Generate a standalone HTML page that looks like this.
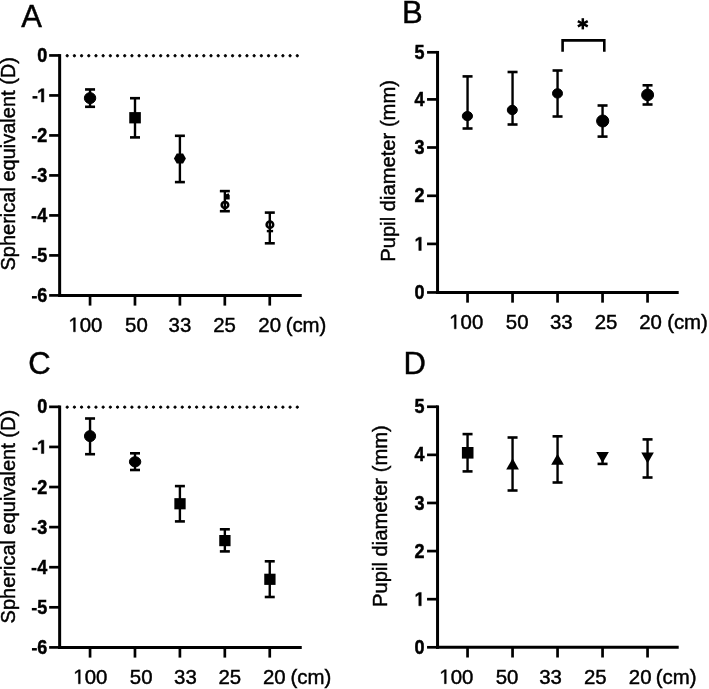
<!DOCTYPE html>
<html><head><meta charset="utf-8"><style>
html,body{margin:0;padding:0;background:#fff;}
svg{display:block;will-change:transform;}
line,polyline,circle,ellipse{stroke:#000;}
.f{fill:#000;}
.g{fill:#000;stroke:#000;stroke-width:0.45;}
text .h{fill-opacity:0;stroke-opacity:0;}
text{font-family:"Liberation Sans", sans-serif;fill:#000;stroke:#000;stroke-width:0.45;}
</style></head><body>
<svg width="709" height="689" viewBox="0 0 709 689">
<rect width="709" height="689" fill="#fff"/>
<line x1="59.65" y1="54.10" x2="59.65" y2="296.90" stroke-width="3.0"/>
<line x1="58.15" y1="295.40" x2="301.75" y2="295.40" stroke-width="3.0"/>
<line x1="49.15" y1="55.45" x2="59.65" y2="55.45" stroke-width="2.7"/>
<text transform="translate(37.19 62.05) scale(1 1.08)" font-size="18" font-weight="bold">0</text>
<line x1="49.15" y1="95.44" x2="59.65" y2="95.44" stroke-width="2.7"/>
<text transform="translate(37.19 102.04) scale(1 1.08)" font-size="18" font-weight="bold"><tspan class="h">1</tspan></text>
<path d="M41.39 102.04V90.94L38.42 92.94V90.84L41.52 88.67H43.86V102.04Z" class="g"/>
<rect x="32.52" y="96.09" width="4.90" height="2.50" class="f"/>
<line x1="49.15" y1="135.43" x2="59.65" y2="135.43" stroke-width="2.7"/>
<text transform="translate(37.19 142.03) scale(1 1.08)" font-size="18" font-weight="bold">2</text>
<rect x="31.91" y="136.08" width="4.90" height="2.50" class="f"/>
<line x1="49.15" y1="175.42" x2="59.65" y2="175.42" stroke-width="2.7"/>
<text transform="translate(37.19 182.02) scale(1 1.08)" font-size="18" font-weight="bold">3</text>
<rect x="31.70" y="176.07" width="4.90" height="2.50" class="f"/>
<line x1="49.15" y1="215.42" x2="59.65" y2="215.42" stroke-width="2.7"/>
<text transform="translate(37.19 222.02) scale(1 1.08)" font-size="18" font-weight="bold">4</text>
<rect x="31.56" y="216.07" width="4.90" height="2.50" class="f"/>
<line x1="49.15" y1="255.41" x2="59.65" y2="255.41" stroke-width="2.7"/>
<text transform="translate(37.19 262.01) scale(1 1.08)" font-size="18" font-weight="bold">5</text>
<rect x="31.84" y="256.06" width="4.90" height="2.50" class="f"/>
<line x1="49.15" y1="295.40" x2="59.65" y2="295.40" stroke-width="2.7"/>
<text transform="translate(37.19 302.00) scale(1 1.08)" font-size="18" font-weight="bold">6</text>
<rect x="31.95" y="296.05" width="4.90" height="2.50" class="f"/>
<line x1="90.05" y1="295.40" x2="90.05" y2="305.60" stroke-width="2.7"/>
<line x1="134.97" y1="295.40" x2="134.97" y2="305.60" stroke-width="2.7"/>
<line x1="179.90" y1="295.40" x2="179.90" y2="305.60" stroke-width="2.7"/>
<line x1="224.82" y1="295.40" x2="224.82" y2="305.60" stroke-width="2.7"/>
<line x1="269.75" y1="295.40" x2="269.75" y2="305.60" stroke-width="2.7"/>
<text transform="translate(68.40 331.80)" font-size="20.4"><tspan class="h">1</tspan>00</text>
<path d="M73.53 331.8V319.48L70.36 321.74V320.05L73.68 317.77H75.33V331.8Z" class="g"/>
<text transform="translate(125.04 331.80)" font-size="20.4">50</text>
<text transform="translate(168.61 331.80)" font-size="20.4">33</text>
<text transform="translate(213.22 331.80)" font-size="20.4">25</text>
<text transform="translate(258.29 331.80)" font-size="20.4">20</text>
<text transform="translate(285.63 331.80)" font-size="20.4">(cm)</text>
<text transform="translate(21.24 26.60)" font-size="31">A</text>
<text transform="translate(14.80 270.50) rotate(-90)" font-size="20">Spherical equivalent (D)</text>
<circle cx="67.20" cy="55.75" r="1.15" class="f"/>
<circle cx="74.39" cy="55.75" r="1.15" class="f"/>
<circle cx="81.58" cy="55.75" r="1.15" class="f"/>
<circle cx="88.77" cy="55.75" r="1.15" class="f"/>
<circle cx="95.96" cy="55.75" r="1.15" class="f"/>
<circle cx="103.15" cy="55.75" r="1.15" class="f"/>
<circle cx="110.34" cy="55.75" r="1.15" class="f"/>
<circle cx="117.53" cy="55.75" r="1.15" class="f"/>
<circle cx="124.72" cy="55.75" r="1.15" class="f"/>
<circle cx="131.91" cy="55.75" r="1.15" class="f"/>
<circle cx="139.10" cy="55.75" r="1.15" class="f"/>
<circle cx="146.29" cy="55.75" r="1.15" class="f"/>
<circle cx="153.48" cy="55.75" r="1.15" class="f"/>
<circle cx="160.67" cy="55.75" r="1.15" class="f"/>
<circle cx="167.86" cy="55.75" r="1.15" class="f"/>
<circle cx="175.05" cy="55.75" r="1.15" class="f"/>
<circle cx="182.24" cy="55.75" r="1.15" class="f"/>
<circle cx="189.43" cy="55.75" r="1.15" class="f"/>
<circle cx="196.62" cy="55.75" r="1.15" class="f"/>
<circle cx="203.81" cy="55.75" r="1.15" class="f"/>
<circle cx="211.00" cy="55.75" r="1.15" class="f"/>
<circle cx="218.19" cy="55.75" r="1.15" class="f"/>
<circle cx="225.38" cy="55.75" r="1.15" class="f"/>
<circle cx="232.57" cy="55.75" r="1.15" class="f"/>
<circle cx="239.76" cy="55.75" r="1.15" class="f"/>
<circle cx="246.95" cy="55.75" r="1.15" class="f"/>
<circle cx="254.14" cy="55.75" r="1.15" class="f"/>
<circle cx="261.33" cy="55.75" r="1.15" class="f"/>
<circle cx="268.52" cy="55.75" r="1.15" class="f"/>
<circle cx="275.71" cy="55.75" r="1.15" class="f"/>
<circle cx="282.90" cy="55.75" r="1.15" class="f"/>
<circle cx="290.09" cy="55.75" r="1.15" class="f"/>
<circle cx="297.28" cy="55.75" r="1.15" class="f"/>
<line x1="437.55" y1="50.95" x2="437.55" y2="293.95" stroke-width="3.0"/>
<line x1="436.05" y1="292.45" x2="678.70" y2="292.45" stroke-width="3.0"/>
<line x1="427.05" y1="52.30" x2="437.55" y2="52.30" stroke-width="2.7"/>
<text transform="translate(414.59 58.90) scale(1 1.08)" font-size="18" font-weight="bold">5</text>
<line x1="427.05" y1="99.40" x2="437.55" y2="99.40" stroke-width="2.7"/>
<text transform="translate(414.59 106.00) scale(1 1.08)" font-size="18" font-weight="bold">4</text>
<line x1="427.05" y1="147.50" x2="437.55" y2="147.50" stroke-width="2.7"/>
<text transform="translate(414.59 154.10) scale(1 1.08)" font-size="18" font-weight="bold">3</text>
<line x1="427.05" y1="195.80" x2="437.55" y2="195.80" stroke-width="2.7"/>
<text transform="translate(414.59 202.40) scale(1 1.08)" font-size="18" font-weight="bold">2</text>
<line x1="427.05" y1="243.90" x2="437.55" y2="243.90" stroke-width="2.7"/>
<text transform="translate(414.59 250.50) scale(1 1.08)" font-size="18" font-weight="bold"><tspan class="h">1</tspan></text>
<path d="M418.79 250.5V239.39L415.82 241.4V239.3L418.92 237.13H421.26V250.5Z" class="g"/>
<line x1="427.05" y1="292.45" x2="437.55" y2="292.45" stroke-width="2.7"/>
<text transform="translate(414.59 299.05) scale(1 1.08)" font-size="18" font-weight="bold">0</text>
<line x1="467.55" y1="292.45" x2="467.55" y2="302.65" stroke-width="2.7"/>
<line x1="512.55" y1="292.45" x2="512.55" y2="302.65" stroke-width="2.7"/>
<line x1="557.55" y1="292.45" x2="557.55" y2="302.65" stroke-width="2.7"/>
<line x1="602.55" y1="292.45" x2="602.55" y2="302.65" stroke-width="2.7"/>
<line x1="647.55" y1="292.45" x2="647.55" y2="302.65" stroke-width="2.7"/>
<text transform="translate(449.20 328.85)" font-size="20.4"><tspan class="h">1</tspan>00</text>
<path d="M454.33 328.85V316.53L451.16 318.79V317.1L454.48 314.82H456.13V328.85Z" class="g"/>
<text transform="translate(505.84 328.85)" font-size="20.4">50</text>
<text transform="translate(549.91 328.85)" font-size="20.4">33</text>
<text transform="translate(594.77 328.85)" font-size="20.4">25</text>
<text transform="translate(639.14 328.85)" font-size="20.4">20</text>
<text transform="translate(667.13 328.85)" font-size="20.4">(cm)</text>
<text transform="translate(401.96 22.70)" font-size="31">B</text>
<text transform="translate(394.95 261.75) rotate(-90)" font-size="20.2">Pupil diameter (mm)</text>
<line x1="59.65" y1="405.50" x2="59.65" y2="648.90" stroke-width="3.0"/>
<line x1="58.15" y1="647.40" x2="301.75" y2="647.40" stroke-width="3.0"/>
<line x1="49.15" y1="406.85" x2="59.65" y2="406.85" stroke-width="2.7"/>
<text transform="translate(37.19 413.45) scale(1 1.08)" font-size="18" font-weight="bold">0</text>
<line x1="49.15" y1="446.94" x2="59.65" y2="446.94" stroke-width="2.7"/>
<text transform="translate(37.19 453.54) scale(1 1.08)" font-size="18" font-weight="bold"><tspan class="h">1</tspan></text>
<path d="M41.39 453.54V442.44L38.42 444.44V442.34L41.52 440.17H43.86V453.54Z" class="g"/>
<rect x="32.52" y="447.59" width="4.90" height="2.50" class="f"/>
<line x1="49.15" y1="487.03" x2="59.65" y2="487.03" stroke-width="2.7"/>
<text transform="translate(37.19 493.63) scale(1 1.08)" font-size="18" font-weight="bold">2</text>
<rect x="31.91" y="487.68" width="4.90" height="2.50" class="f"/>
<line x1="49.15" y1="527.12" x2="59.65" y2="527.12" stroke-width="2.7"/>
<text transform="translate(37.19 533.73) scale(1 1.08)" font-size="18" font-weight="bold">3</text>
<rect x="31.70" y="527.77" width="4.90" height="2.50" class="f"/>
<line x1="49.15" y1="567.22" x2="59.65" y2="567.22" stroke-width="2.7"/>
<text transform="translate(37.19 573.82) scale(1 1.08)" font-size="18" font-weight="bold">4</text>
<rect x="31.56" y="567.87" width="4.90" height="2.50" class="f"/>
<line x1="49.15" y1="607.31" x2="59.65" y2="607.31" stroke-width="2.7"/>
<text transform="translate(37.19 613.91) scale(1 1.08)" font-size="18" font-weight="bold">5</text>
<rect x="31.84" y="607.96" width="4.90" height="2.50" class="f"/>
<line x1="49.15" y1="647.40" x2="59.65" y2="647.40" stroke-width="2.7"/>
<text transform="translate(37.19 654.00) scale(1 1.08)" font-size="18" font-weight="bold">6</text>
<rect x="31.95" y="648.05" width="4.90" height="2.50" class="f"/>
<line x1="90.05" y1="647.40" x2="90.05" y2="657.60" stroke-width="2.7"/>
<line x1="134.97" y1="647.40" x2="134.97" y2="657.60" stroke-width="2.7"/>
<line x1="179.90" y1="647.40" x2="179.90" y2="657.60" stroke-width="2.7"/>
<line x1="224.82" y1="647.40" x2="224.82" y2="657.60" stroke-width="2.7"/>
<line x1="269.75" y1="647.40" x2="269.75" y2="657.60" stroke-width="2.7"/>
<text transform="translate(73.30 683.80)" font-size="20.4"><tspan class="h">1</tspan>00</text>
<path d="M78.43 683.8V671.48L75.26 673.74V672.05L78.58 669.77H80.23V683.8Z" class="g"/>
<text transform="translate(129.84 683.80)" font-size="20.4">50</text>
<text transform="translate(174.11 683.80)" font-size="20.4">33</text>
<text transform="translate(218.47 683.80)" font-size="20.4">25</text>
<text transform="translate(262.94 683.80)" font-size="20.4">20</text>
<text transform="translate(290.43 683.80)" font-size="20.4">(cm)</text>
<text transform="translate(28.13 374.20)" font-size="31">C</text>
<text transform="translate(14.80 623.40) rotate(-90)" font-size="20">Spherical equivalent (D)</text>
<circle cx="67.20" cy="407.15" r="1.15" class="f"/>
<circle cx="74.39" cy="407.15" r="1.15" class="f"/>
<circle cx="81.58" cy="407.15" r="1.15" class="f"/>
<circle cx="88.77" cy="407.15" r="1.15" class="f"/>
<circle cx="95.96" cy="407.15" r="1.15" class="f"/>
<circle cx="103.15" cy="407.15" r="1.15" class="f"/>
<circle cx="110.34" cy="407.15" r="1.15" class="f"/>
<circle cx="117.53" cy="407.15" r="1.15" class="f"/>
<circle cx="124.72" cy="407.15" r="1.15" class="f"/>
<circle cx="131.91" cy="407.15" r="1.15" class="f"/>
<circle cx="139.10" cy="407.15" r="1.15" class="f"/>
<circle cx="146.29" cy="407.15" r="1.15" class="f"/>
<circle cx="153.48" cy="407.15" r="1.15" class="f"/>
<circle cx="160.67" cy="407.15" r="1.15" class="f"/>
<circle cx="167.86" cy="407.15" r="1.15" class="f"/>
<circle cx="175.05" cy="407.15" r="1.15" class="f"/>
<circle cx="182.24" cy="407.15" r="1.15" class="f"/>
<circle cx="189.43" cy="407.15" r="1.15" class="f"/>
<circle cx="196.62" cy="407.15" r="1.15" class="f"/>
<circle cx="203.81" cy="407.15" r="1.15" class="f"/>
<circle cx="211.00" cy="407.15" r="1.15" class="f"/>
<circle cx="218.19" cy="407.15" r="1.15" class="f"/>
<circle cx="225.38" cy="407.15" r="1.15" class="f"/>
<circle cx="232.57" cy="407.15" r="1.15" class="f"/>
<circle cx="239.76" cy="407.15" r="1.15" class="f"/>
<circle cx="246.95" cy="407.15" r="1.15" class="f"/>
<circle cx="254.14" cy="407.15" r="1.15" class="f"/>
<circle cx="261.33" cy="407.15" r="1.15" class="f"/>
<circle cx="268.52" cy="407.15" r="1.15" class="f"/>
<circle cx="275.71" cy="407.15" r="1.15" class="f"/>
<circle cx="282.90" cy="407.15" r="1.15" class="f"/>
<circle cx="290.09" cy="407.15" r="1.15" class="f"/>
<circle cx="297.28" cy="407.15" r="1.15" class="f"/>
<line x1="437.55" y1="405.40" x2="437.55" y2="648.80" stroke-width="3.0"/>
<line x1="436.05" y1="647.30" x2="678.70" y2="647.30" stroke-width="3.0"/>
<line x1="427.05" y1="406.75" x2="437.55" y2="406.75" stroke-width="2.7"/>
<text transform="translate(414.59 413.35) scale(1 1.08)" font-size="18" font-weight="bold">5</text>
<line x1="427.05" y1="454.86" x2="437.55" y2="454.86" stroke-width="2.7"/>
<text transform="translate(414.59 461.46) scale(1 1.08)" font-size="18" font-weight="bold">4</text>
<line x1="427.05" y1="502.97" x2="437.55" y2="502.97" stroke-width="2.7"/>
<text transform="translate(414.59 509.57) scale(1 1.08)" font-size="18" font-weight="bold">3</text>
<line x1="427.05" y1="551.08" x2="437.55" y2="551.08" stroke-width="2.7"/>
<text transform="translate(414.59 557.68) scale(1 1.08)" font-size="18" font-weight="bold">2</text>
<line x1="427.05" y1="599.19" x2="437.55" y2="599.19" stroke-width="2.7"/>
<text transform="translate(414.59 605.79) scale(1 1.08)" font-size="18" font-weight="bold"><tspan class="h">1</tspan></text>
<path d="M418.79 605.79V594.68L415.82 596.69V594.59L418.92 592.42H421.26V605.79Z" class="g"/>
<line x1="427.05" y1="647.30" x2="437.55" y2="647.30" stroke-width="2.7"/>
<text transform="translate(414.59 653.90) scale(1 1.08)" font-size="18" font-weight="bold">0</text>
<line x1="467.55" y1="647.30" x2="467.55" y2="657.50" stroke-width="2.7"/>
<line x1="512.55" y1="647.30" x2="512.55" y2="657.50" stroke-width="2.7"/>
<line x1="557.55" y1="647.30" x2="557.55" y2="657.50" stroke-width="2.7"/>
<line x1="602.55" y1="647.30" x2="602.55" y2="657.50" stroke-width="2.7"/>
<line x1="647.55" y1="647.30" x2="647.55" y2="657.50" stroke-width="2.7"/>
<text transform="translate(439.30 683.70)" font-size="20.4"><tspan class="h">1</tspan>00</text>
<path d="M444.43 683.7V671.38L441.26 673.64V671.95L444.58 669.67H446.23V683.7Z" class="g"/>
<text transform="translate(495.64 683.70)" font-size="20.4">50</text>
<text transform="translate(539.21 683.70)" font-size="20.4">33</text>
<text transform="translate(583.97 683.70)" font-size="20.4">25</text>
<text transform="translate(628.84 683.70)" font-size="20.4">20</text>
<text transform="translate(655.73 683.70)" font-size="20.4">(cm)</text>
<text transform="translate(403.56 373.60)" font-size="31">D</text>
<text transform="translate(387.00 606.96) rotate(-90)" font-size="20.2">Pupil diameter (mm)</text>
<line x1="90.05" y1="89.45" x2="90.05" y2="106.80" stroke-width="2.4"/>
<line x1="85.05" y1="89.45" x2="95.05" y2="89.45" stroke-width="2.6"/>
<line x1="85.05" y1="106.80" x2="95.05" y2="106.80" stroke-width="2.6"/>
<ellipse cx="90.05" cy="98.10" rx="5.70" ry="5.50" class="f"/>
<line x1="135.00" y1="98.20" x2="135.00" y2="137.40" stroke-width="2.4"/>
<line x1="130.00" y1="98.20" x2="140.00" y2="98.20" stroke-width="2.6"/>
<line x1="130.00" y1="137.40" x2="140.00" y2="137.40" stroke-width="2.6"/>
<rect x="129.25" y="112.10" width="11.60" height="11.30" class="f"/>
<line x1="179.90" y1="135.80" x2="179.90" y2="182.10" stroke-width="2.4"/>
<line x1="174.90" y1="135.80" x2="184.90" y2="135.80" stroke-width="2.6"/>
<line x1="174.90" y1="182.10" x2="184.90" y2="182.10" stroke-width="2.6"/>
<polygon points="173.90,158.50 176.70,153.40 183.10,153.40 185.90,158.50 183.10,163.60 176.70,163.60" class="f"/>
<line x1="224.85" y1="191.10" x2="224.85" y2="211.20" stroke-width="2.4"/>
<line x1="219.85" y1="191.10" x2="229.85" y2="191.10" stroke-width="2.6"/>
<line x1="219.85" y1="211.20" x2="229.85" y2="211.20" stroke-width="2.6"/>
<ellipse cx="224.95" cy="204.9" rx="3.3" ry="3.0" fill="none" stroke-width="2.5"/>
<path d="M226,194.2 L228.6,193.2 L229.7,195.5 L229.7,199.4 L226,199.6Z" class="f"/>
<line x1="269.80" y1="212.60" x2="269.80" y2="243.30" stroke-width="2.4"/>
<line x1="264.80" y1="212.60" x2="274.80" y2="212.60" stroke-width="2.6"/>
<line x1="264.80" y1="243.30" x2="274.80" y2="243.30" stroke-width="2.6"/>
<ellipse cx="269.9" cy="224.7" rx="3.3" ry="3.1" fill="none" stroke-width="2.5"/>
<rect x="266.80" y="229.90" width="6.30" height="2.40" class="f"/>
<line x1="467.55" y1="76.40" x2="467.55" y2="128.50" stroke-width="2.4"/>
<line x1="462.55" y1="76.40" x2="472.55" y2="76.40" stroke-width="2.6"/>
<line x1="462.55" y1="128.50" x2="472.55" y2="128.50" stroke-width="2.6"/>
<ellipse cx="467.40" cy="116.10" rx="5.10" ry="4.60" class="f"/>
<line x1="512.55" y1="72.00" x2="512.55" y2="124.50" stroke-width="2.4"/>
<line x1="507.55" y1="72.00" x2="517.55" y2="72.00" stroke-width="2.6"/>
<line x1="507.55" y1="124.50" x2="517.55" y2="124.50" stroke-width="2.6"/>
<ellipse cx="512.30" cy="110.00" rx="5.00" ry="4.70" class="f"/>
<line x1="557.55" y1="70.50" x2="557.55" y2="116.50" stroke-width="2.4"/>
<line x1="552.55" y1="70.50" x2="562.55" y2="70.50" stroke-width="2.6"/>
<line x1="552.55" y1="116.50" x2="562.55" y2="116.50" stroke-width="2.6"/>
<ellipse cx="557.50" cy="93.40" rx="5.00" ry="4.70" class="f"/>
<line x1="602.55" y1="105.50" x2="602.55" y2="136.60" stroke-width="2.4"/>
<line x1="597.55" y1="105.50" x2="607.55" y2="105.50" stroke-width="2.6"/>
<line x1="597.55" y1="136.60" x2="607.55" y2="136.60" stroke-width="2.6"/>
<ellipse cx="602.70" cy="121.00" rx="6.10" ry="6.00" class="f"/>
<line x1="647.55" y1="85.30" x2="647.55" y2="104.50" stroke-width="2.4"/>
<line x1="642.55" y1="85.30" x2="652.55" y2="85.30" stroke-width="2.6"/>
<line x1="642.55" y1="104.50" x2="652.55" y2="104.50" stroke-width="2.6"/>
<ellipse cx="647.60" cy="94.90" rx="6.00" ry="5.80" class="f"/>
<polyline points="562.6,51.7 562.6,40.4 604.3,40.4 604.3,51.7" fill="none" stroke-width="2.6"/>
<line x1="582.80" y1="18.20" x2="582.80" y2="29.40" stroke-width="2.5"/>
<line x1="577.86" y1="21.17" x2="587.74" y2="26.43" stroke-width="2.5"/>
<line x1="577.86" y1="26.43" x2="587.74" y2="21.17" stroke-width="2.5"/>
<line x1="90.05" y1="418.50" x2="90.05" y2="454.20" stroke-width="2.4"/>
<line x1="85.05" y1="418.50" x2="95.05" y2="418.50" stroke-width="2.6"/>
<line x1="85.05" y1="454.20" x2="95.05" y2="454.20" stroke-width="2.6"/>
<ellipse cx="90.05" cy="436.10" rx="5.60" ry="5.50" class="f"/>
<line x1="135.00" y1="453.30" x2="135.00" y2="470.00" stroke-width="2.4"/>
<line x1="130.00" y1="453.30" x2="140.00" y2="453.30" stroke-width="2.6"/>
<line x1="130.00" y1="470.00" x2="140.00" y2="470.00" stroke-width="2.6"/>
<ellipse cx="135.10" cy="461.80" rx="5.70" ry="5.10" class="f"/>
<line x1="179.90" y1="486.10" x2="179.90" y2="521.40" stroke-width="2.4"/>
<line x1="174.90" y1="486.10" x2="184.90" y2="486.10" stroke-width="2.6"/>
<line x1="174.90" y1="521.40" x2="184.90" y2="521.40" stroke-width="2.6"/>
<rect x="174.35" y="498.15" width="11.30" height="11.20" class="f"/>
<line x1="224.85" y1="529.30" x2="224.85" y2="551.40" stroke-width="2.4"/>
<line x1="219.85" y1="529.30" x2="229.85" y2="529.30" stroke-width="2.6"/>
<line x1="219.85" y1="551.40" x2="229.85" y2="551.40" stroke-width="2.6"/>
<rect x="219.25" y="535.00" width="11.30" height="11.20" class="f"/>
<line x1="269.75" y1="561.30" x2="269.75" y2="597.00" stroke-width="2.4"/>
<line x1="264.75" y1="561.30" x2="274.75" y2="561.30" stroke-width="2.6"/>
<line x1="264.75" y1="597.00" x2="274.75" y2="597.00" stroke-width="2.6"/>
<rect x="264.25" y="573.70" width="11.30" height="11.20" class="f"/>
<line x1="467.55" y1="434.10" x2="467.55" y2="471.40" stroke-width="2.4"/>
<line x1="462.55" y1="434.10" x2="472.55" y2="434.10" stroke-width="2.6"/>
<line x1="462.55" y1="471.40" x2="472.55" y2="471.40" stroke-width="2.6"/>
<rect x="461.90" y="447.00" width="11.60" height="11.60" class="f"/>
<line x1="512.55" y1="437.50" x2="512.55" y2="490.50" stroke-width="2.4"/>
<line x1="507.55" y1="437.50" x2="517.55" y2="437.50" stroke-width="2.6"/>
<line x1="507.55" y1="490.50" x2="517.55" y2="490.50" stroke-width="2.6"/>
<polygon points="512.55,458.30 518.90,469.60 506.20,469.60" class="f"/>
<line x1="557.55" y1="436.30" x2="557.55" y2="482.50" stroke-width="2.4"/>
<line x1="552.55" y1="436.30" x2="562.55" y2="436.30" stroke-width="2.6"/>
<line x1="552.55" y1="482.50" x2="562.55" y2="482.50" stroke-width="2.6"/>
<polygon points="557.55,453.80 563.90,464.70 551.20,464.70" class="f"/>
<line x1="602.55" y1="455.00" x2="602.55" y2="463.90" stroke-width="2.4"/>
<line x1="597.55" y1="463.90" x2="607.55" y2="463.90" stroke-width="2.6"/>
<polygon points="596.25,452.10 608.85,452.10 602.55,463.00" class="f"/>
<line x1="647.55" y1="439.40" x2="647.55" y2="477.50" stroke-width="2.4"/>
<line x1="642.55" y1="439.40" x2="652.55" y2="439.40" stroke-width="2.6"/>
<line x1="642.55" y1="477.50" x2="652.55" y2="477.50" stroke-width="2.6"/>
<polygon points="641.25,452.60 653.85,452.60 647.55,463.40" class="f"/>
</svg>
</body></html>
